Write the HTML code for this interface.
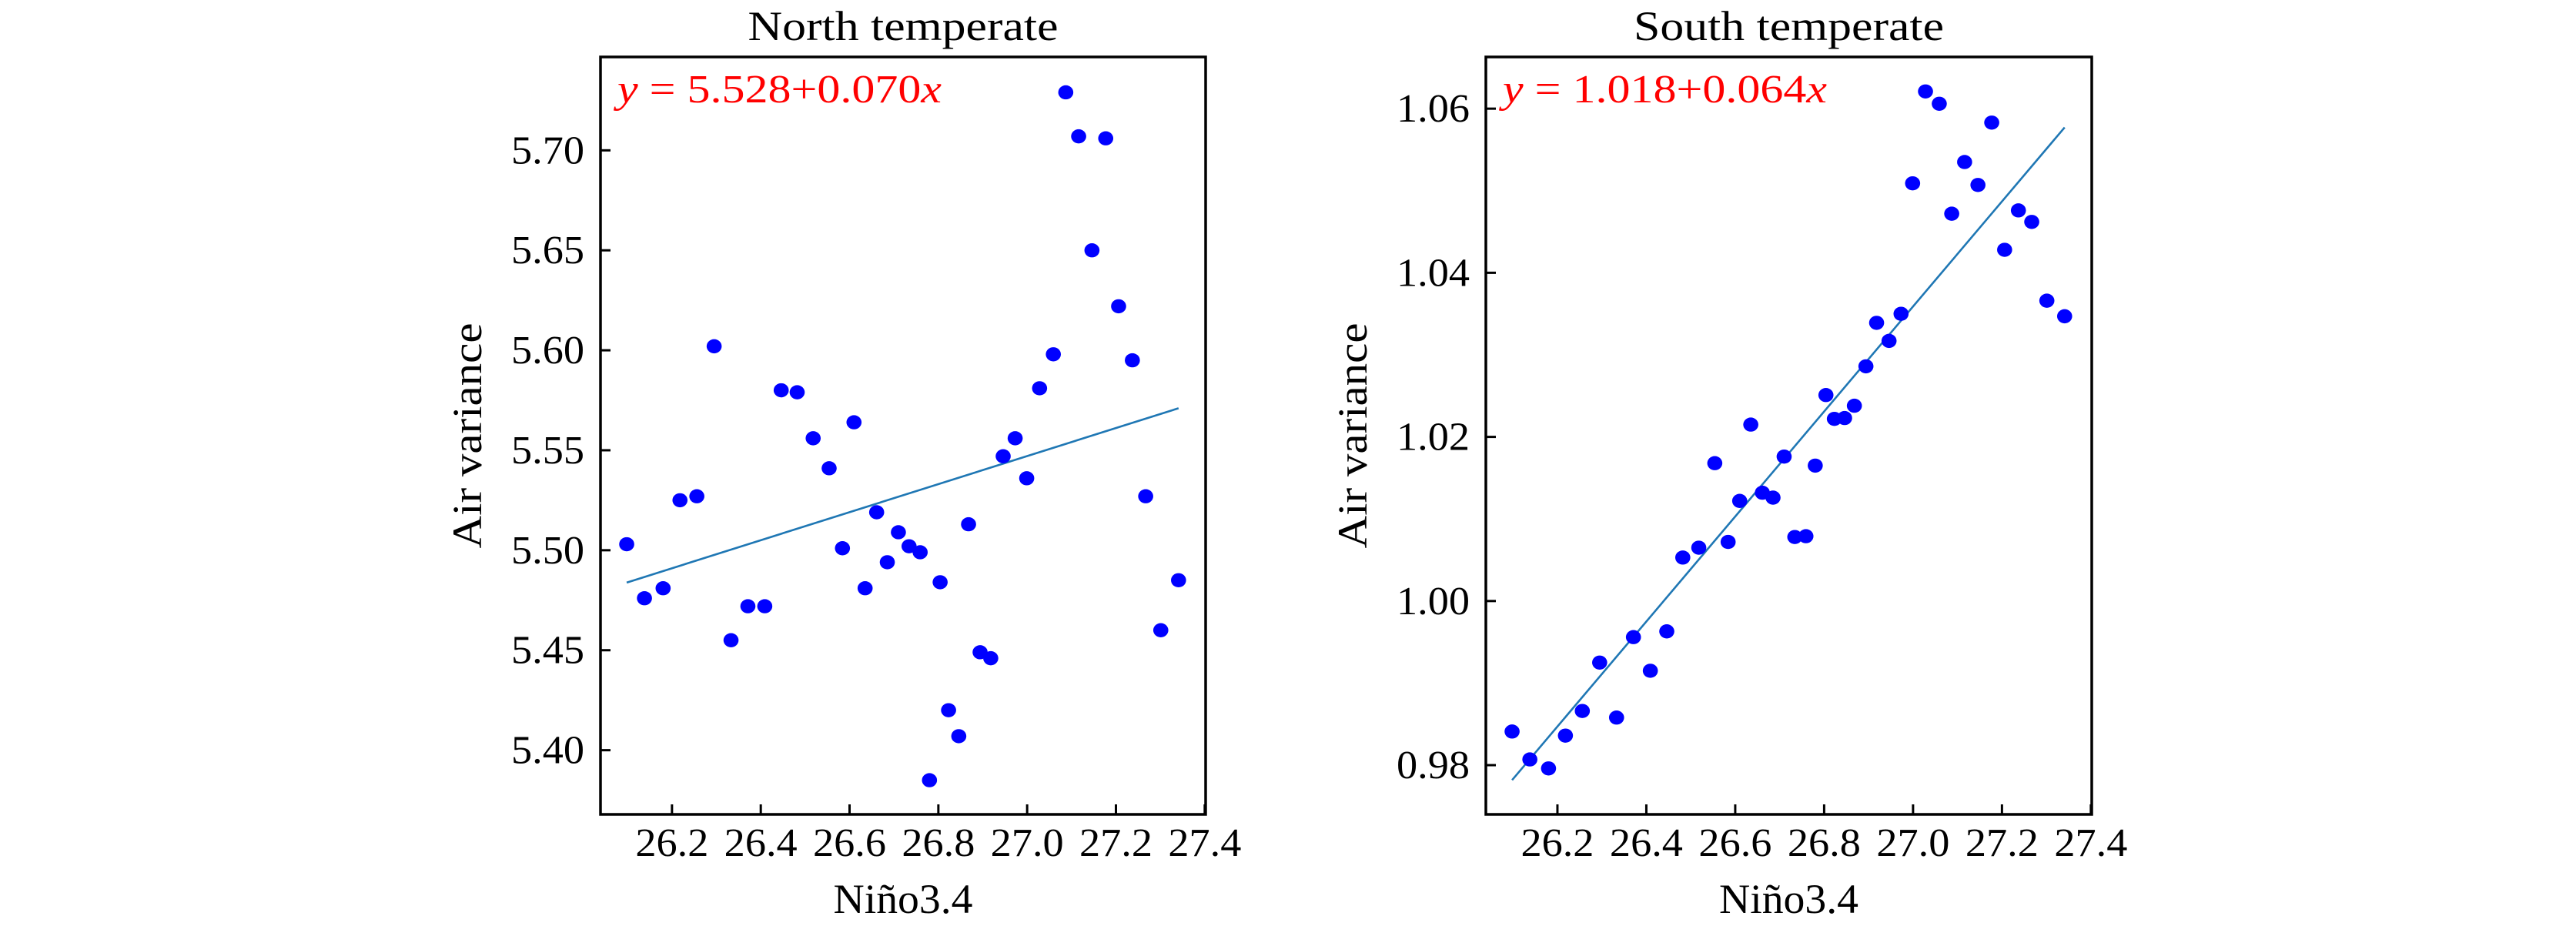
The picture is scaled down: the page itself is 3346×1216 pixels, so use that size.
<!DOCTYPE html>
<html><head><meta charset="utf-8"><style>
html,body{margin:0;padding:0;background:#fff;}
svg text{font-family:"Liberation Serif",serif;}
</style></head><body>
<svg id="chart" width="3346" height="1211" viewBox="0 0 3346 1211" xmlns="http://www.w3.org/2000/svg"></svg>
<script>
const xTicks = [26.2, 26.4, 26.6, 26.8, 27.0, 27.2, 27.4];
const xTickLabels = ["26.2", "26.4", "26.6", "26.8", "27.0", "27.2", "27.4"];
const nino = [26.098,26.138,26.180,26.218,26.256,26.295,26.333,26.371,26.409,26.446,26.482,26.518,26.554,26.584,26.610,26.635,26.661,26.685,26.710,26.734,26.759,26.780,26.804,26.823,26.846,26.868,26.894,26.918,26.946,26.973,26.999,27.028,27.059,27.087,27.116,27.146,27.177,27.206,27.237,27.267,27.301,27.341];
const northValues = [5.503,5.476,5.481,5.525,5.527,5.602,5.455,5.472,5.472,5.580,5.579,5.556,5.541,5.501,5.564,5.481,5.519,5.494,5.509,5.502,5.499,5.385,5.484,5.420,5.407,5.513,5.449,5.446,5.547,5.556,5.536,5.581,5.598,5.729,5.707,5.650,5.706,5.622,5.595,5.527,5.460,5.485];
const southValues = [0.9841,0.9807,0.9796,0.9836,0.9866,0.9925,0.9858,0.9956,0.9915,0.9963,1.0053,1.0065,1.0168,1.0072,1.0122,1.0215,1.0132,1.0126,1.0176,1.0078,1.0079,1.0165,1.0251,1.0222,1.0223,1.0238,1.0286,1.0339,1.0317,1.0350,1.0509,1.0621,1.0606,1.0472,1.0535,1.0507,1.0583,1.0428,1.0476,1.0462,1.0366,1.0347];
const northYTicks = [5.40, 5.45, 5.50, 5.55, 5.60, 5.65, 5.70];
const northYTickLabels = ["5.40","5.45","5.50","5.55","5.60","5.65","5.70"];
const southYTicks = [0.98, 1.00, 1.02, 1.04, 1.06];
const southYTickLabels = ["0.98","1.00","1.02","1.04","1.06"];

const NS = "http://www.w3.org/2000/svg";
const svg = document.getElementById('chart');
function mk(tag, attrs, parent, txt){
  const e = document.createElementNS(NS, tag);
  for (const k in attrs) e.setAttribute(k, attrs[k]);
  if (txt !== undefined) e.textContent = txt;
  parent.appendChild(e);
  return e;
}

function panel(cfg){
  const g = mk('g', {}, svg);
  
  
  const L = cfg.left, R = cfg.right, T = 74, B = 1058;
  const xs = v => L + (v - cfg.xmin) / (cfg.xmax - cfg.xmin) * (R - L);
  const ys = v => B - (v - cfg.ymin) / (cfg.ymax - cfg.ymin) * (B - T);
  const cx = (L + R) / 2;
  // title
  const t = mk('text', {x: cx, y: 52, 'text-anchor': 'middle', 'font-size': 54, textLength: 403, lengthAdjust: 'spacingAndGlyphs'}, g, cfg.title);
  
  
  // x ticks
  xTicks.forEach((v, i) => {
    const x = xs(v);
    const tk = mk('line', {x1: x, x2: x, y1: B, y2: B - 13, stroke: '#000', 'stroke-width': 3}, g);
    
    
    const lb = mk('text', {x: x, y: 1112, 'text-anchor': 'middle', 'font-size': 52, textLength: 95, lengthAdjust: 'spacingAndGlyphs'}, g, xTickLabels[i]);
    
    
  });
  cfg.yTicks.forEach((v, i) => {
    const y = ys(v);
    const tk = mk('line', {x1: L, x2: L + 13, y1: y, y2: y, stroke: '#000', 'stroke-width': 3}, g);
    
    
    const lb = mk('text', {x: L - 21, y: y + 17, 'text-anchor': 'end', 'font-size': 52, textLength: 95, lengthAdjust: 'spacingAndGlyphs'}, g, cfg.yTickLabels[i]);
    
    
  });
  // regression line
  const n = nino.length;
  let mx = 0, my = 0;
  for (let i = 0; i < n; i++){ mx += nino[i]; my += cfg.values[i]; }
  mx /= n; my /= n;
  let sxy = 0, sxx = 0;
  for (let i = 0; i < n; i++){ sxy += (nino[i]-mx)*(cfg.values[i]-my); sxx += (nino[i]-mx)**2; }
  const slope = sxy / sxx, icpt = my - slope * mx;
  const x0 = Math.min(...nino), x1 = Math.max(...nino);
  const ln = mk('line', {x1: xs(x0), y1: ys(icpt + slope*x0), x2: xs(x1), y2: ys(icpt + slope*x1), stroke: '#1f77b4', 'stroke-width': 2.6}, g);
  
  
  // points
  for (let i = 0; i < n; i++){
    const c = mk('ellipse', {cx: xs(nino[i]), cy: ys(cfg.values[i]), rx: 9.8, ry: 9.2, fill: '#0000ff'}, g);
    
    
  }
  // frame
  const fr = mk('rect', {x: L, y: T, width: R - L, height: B - T, fill: 'none', stroke: '#000', 'stroke-width': 3.5}, g);
  
  
  // equation
  const eq = mk('text', {x: L + 22, y: 133, 'font-size': 52, fill: '#f00', textLength: 421, lengthAdjust: 'spacingAndGlyphs'}, g);
  
  
  mk('tspan', {'font-style': 'italic'}, eq, 'y');
  mk('tspan', {}, eq, ' = ' + cfg.eq);
  mk('tspan', {'font-style': 'italic'}, eq, 'x');
  // axis labels
  const xl = mk('text', {x: cx, y: 1186, 'text-anchor': 'middle', 'font-size': 54, textLength: 181, lengthAdjust: 'spacingAndGlyphs'}, g, 'Niño3.4');
  
  
  const yl = mk('text', {x: 0, y: 0, 'text-anchor': 'middle', 'font-size': 54, textLength: 293, lengthAdjust: 'spacingAndGlyphs', transform: `translate(${L - 155},566) rotate(-90)`}, g, 'Air variance');
  
  
}

panel({name: 'north-temperate-panel', title: 'North temperate', left: 780, right: 1566,
  xmin: 26.039, xmax: 27.402, ymin: 5.3679, ymax: 5.7467,
  values: northValues, yTicks: northYTicks, yTickLabels: northYTickLabels, eq: '5.528+0.070'});
panel({name: 'south-temperate-panel', title: 'South temperate', left: 1930, right: 2717,
  xmin: 26.039, xmax: 27.402, ymin: 0.974, ymax: 1.0663,
  values: southValues, yTicks: southYTicks, yTickLabels: southYTickLabels, eq: '1.018+0.064'});
</script>
</body></html>
